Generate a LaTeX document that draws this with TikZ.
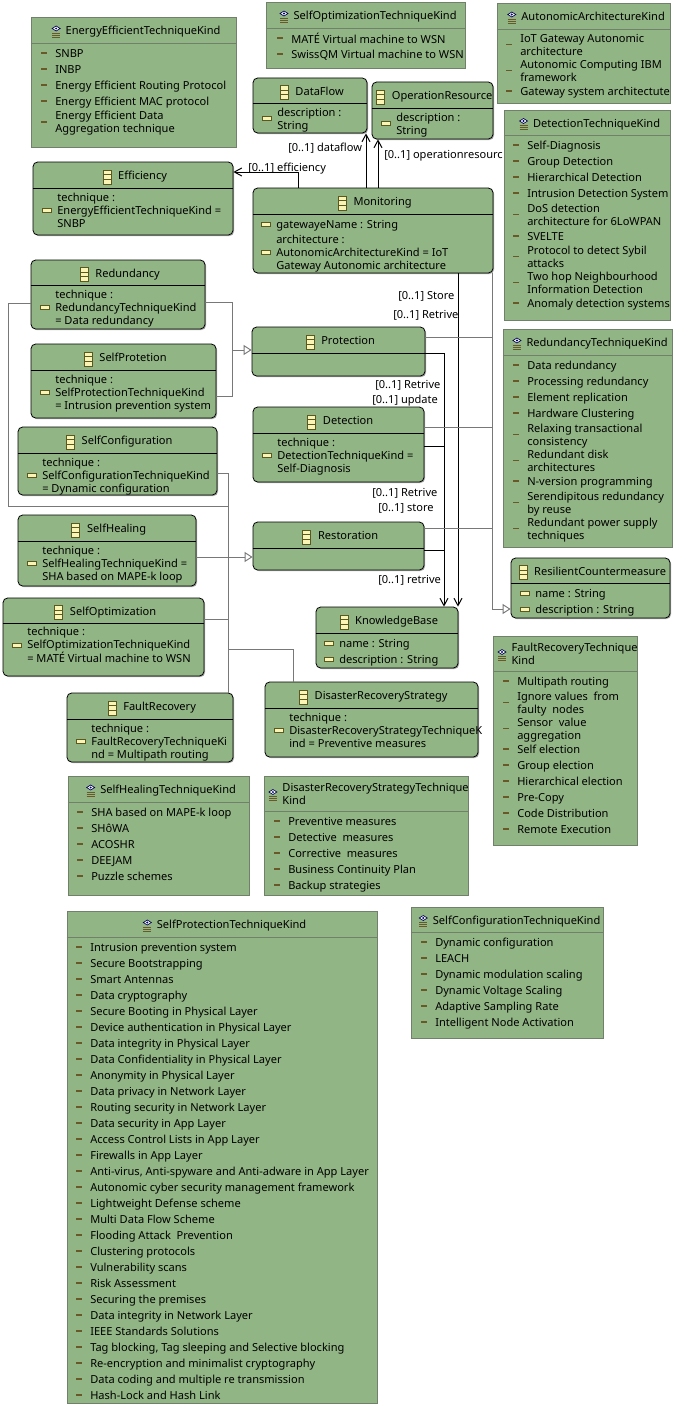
\documentclass[tikz,border=0pt]{standalone}
\usepackage{fontspec}
\setmainfont{Noto Sans}
\usetikzlibrary{arrows.meta,fit,shadows}

\definecolor{boxgreen}{RGB}{146,181,133}
\definecolor{kindframe}{RGB}{112,128,106}
\definecolor{edgegrey}{RGB}{120,120,120}
\definecolor{dashbrown}{RGB}{105,88,40}
\definecolor{iconfill}{RGB}{250,245,180}
\definecolor{iconline}{RGB}{90,88,30}

\tikzset{
	kindstyle/.style={draw=kindframe, fill=boxgreen, line width=0.6pt, inner sep=0pt, drop shadow={shadow xshift=0.8pt, shadow yshift=-0.8pt, fill=black, opacity=0.35}},
	classstyle/.style={draw=black, fill=boxgreen, line width=0.6pt, rounded corners=3.5pt, inner sep=0pt, drop shadow={shadow xshift=0.8pt, shadow yshift=-0.8pt, fill=black, opacity=0.35}},
	rowtext/.style={anchor=west, inner sep=0pt, align=left, yshift=-1.5pt, font=\fontsize{8.3}{9.75}\selectfont, execute at begin node=\strut, execute at end node=\strut},
	titletext/.style={rowtext, anchor=center},
	edgetext/.style={anchor=west, inner sep=0pt, yshift=-1.5pt, font=\fontsize{8.3}{9.75}\selectfont},
	kinddash/.style={draw=dashbrown, line width=1pt},
	refedge/.style={draw=black, line width=0.75pt, -{Straight Barb[length=5.5pt,width=6pt]}},
	greyedge/.style={draw=edgegrey, line width=0.7pt},
	genedge/.style={greyedge, -{Triangle[fill=white,length=6pt,width=7.5pt]}},
	classmark/.pic={
		\draw[iconline, fill=iconfill, line width=0.6pt] (-4,-7) rectangle (4,7);
		\draw[iconline, line width=0.6pt] (-4,-2.3) -- (4,-2.3) (-4,2.3) -- (4,2.3);
	},
	kindmark/.pic={
		\draw[black!70!blue, line width=0.5pt, fill=white] (-4,-3.5) -- (0,-6) -- (4,-3.5) -- (0,-1) -- cycle;
		\fill[blue!50!black] (0,-3.5) circle (1.1);
		\draw[dashbrown, line width=0.5pt] (-4,1) -- (4,1) (-4,3) -- (4,3) (-4,5) -- (4,5);
	}
}

% name, x1, y1, x2, y2, divider y, title
\newcommand{\kindbox}[7]{
	\node[kindstyle, fit={(#2,#3) (#4,#5)}] (#1) {};
	\draw[draw=kindframe, line width=0.6pt] (#1.west |- 0,#6) -- (#1.east |- 0,#6);
	\pgfmathsetmacro{\ty}{(#3+#6)/2}
	\node[titletext] (#1-title) at ([xshift=7.2pt]#1.north |- 0,\ty) {#7};
	\pic at ([xshift=-7pt]#1-title.west) {kindmark};
}
\newcommand{\classbox}[7]{
	\node[classstyle, fit={(#2,#3) (#4,#5)}] (#1) {};
	\draw[draw=black, line width=0.6pt] (#1.west |- 0,#6) -- (#1.east |- 0,#6);
	\pgfmathsetmacro{\ty}{(#3+#6)/2}
	\node[titletext] (#1-title) at ([xshift=7.2pt]#1.north |- 0,\ty) {#7};
	\pic at ([xshift=-8.25pt]#1-title.west) {classmark};
}
% name, text x, list of y/text
\newcommand{\kindrows}[3]{
	\foreach \ry/\rt [count=\ri] in {#3}{
		\node[rowtext] (#1-\ri) at (#2,\ry) {\rt};
		\draw[kinddash] ([xshift=-10.5pt,yshift=1.5pt]#1-\ri.west) -- ++(6,0);
	}
}
\newcommand{\classrows}[3]{
	\foreach \ry/\rt [count=\ri] in {#3}{
		\node[rowtext] (#1-\ri) at (#2,\ry) {\rt};
		\draw[iconline, fill=iconfill, line width=0.5pt] ([xshift=-11.2pt,yshift=3pt]#1-\ri.west) rectangle ++(9,4);
	}
}

\begin{document}
\begin{tikzpicture}[x=0.75pt,y=-0.75pt]
	\useasboundingbox (0,0) rectangle (680,1420);

	% enumerations
	\kindbox{energykind}{31}{17}{236}{147}{43}{EnergyEfficientTechniqueKind}
	\kindrows{energykind}{55}{53/SNBP, 69/INBP, 85/Energy Efficient Routing Protocol, 101/Energy Efficient MAC protocol, 122/{Energy Efficient Data\\Aggregation technique}}

	\kindbox{optimizationkind}{266}{2}{465}{68}{28}{SelfOptimizationTechniqueKind}
	\kindrows{optimizationkind}{291}{38/MATÉ Virtual machine to WSN, 54/SwissQM Virtual machine to WSN}

	\kindbox{architecturekind}{497}{3}{670}{103}{29}{AutonomicArchitectureKind}
	\kindrows{architecturekind}{520}{44.5/{IoT Gateway Autonomic\\architecture}, 70.5/{Autonomic Computing IBM\\framework}, 91/Gateway system architectute}

	\kindbox{detectionkind}{504}{110}{670}{320}{135}{DetectionTechniqueKind}
	\kindrows{detectionkind}{527}{145/Self-Diagnosis, 161/Group Detection, 177/Hierarchical Detection, 193/Intrusion Detection System, 214.5/{DoS detection\\architecture for 6LoWPAN}, 236/SVELTE, 256.5/{Protocol to detect Sybil\\attacks}, 282.5/{Two hop Neighbourhood\\Information Detection}, 303/Anomaly detection systems}

	\kindbox{redundancykind}{503}{329}{672}{547}{355}{RedundancyTechniqueKind}
	\kindrows{redundancykind}{527}{365/Data redundancy, 381/Processing redundancy, 397/Element replication, 413/Hardware Clustering, 434.5/{Relaxing transactional\\consistency}, 460.5/{Redundant disk\\architectures}, 481/N-version programming, 502.5/{Serendipitous redundancy\\by reuse}, 528.5/{Redundant power supply\\techniques}}

	\kindbox{recoverykind}{493}{636}{637}{845}{671}{FaultRecoveryTechnique\\Kind}
	\kindrows{recoverykind}{517}{681/Multipath routing, 702.5/{Ignore values~ from\\faulty~ nodes}, 728.5/{Sensor~ value\\aggregation}, 749/Self election, 765/Group election, 781/Hierarchical election, 797/Pre-Copy, 813/Code Distribution, 829/Remote Execution}

	\kindbox{healingkind}{68}{776}{249}{895}{802}{SelfHealingTechniqueKind}
	\kindrows{healingkind}{91}{812/SHA based on MAPE-k loop, 828/SHôWA, 844/ACOSHR, 860/DEEJAM, 876/Puzzle schemes}

	\kindbox{disasterkind}{264}{776}{468}{895}{811}{DisasterRecoveryStrategyTechnique\\Kind}
	\kindrows{disasterkind}{288}{821/Preventive measures, 837/Detective~ measures, 853/Corrective~ measures, 869/Business Continuity Plan, 885/Backup strategies}

	\kindbox{protectionkind}{67}{911}{377}{1403}{937}{SelfProtectionTechniqueKind}
	\kindrows{protectionkind}{90}{947/Intrusion prevention system, 963/Secure Bootstrapping, 979/Smart Antennas, 995/Data cryptography, 1011/Secure Booting in Physical Layer, 1027/Device authentication in Physical Layer, 1043/Data integrity in Physical Layer, 1059/Data Confidentiality in Physical Layer, 1075/Anonymity in Physical Layer, 1091/Data privacy in Network Layer, 1107/Routing security in Network Layer, 1123/Data security in App Layer, 1139/Access Control Lists in App Layer, 1155/Firewalls in App Layer, 1171/{Anti-virus, Anti-spyware and Anti-adware in App Layer}, 1187/Autonomic cyber security management framework, 1203/Lightweight Defense scheme, 1219/Multi Data Flow Scheme, 1235/Flooding Attack~ Prevention, 1251/Clustering protocols, 1267/Vulnerability scans, 1283/Risk Assessment, 1299/Securing the premises, 1315/Data integrity in Network Layer, 1331/IEEE Standards Solutions, 1347/{Tag blocking, Tag sleeping and Selective blocking}, 1363/Re-encryption and minimalist cryptography, 1379/Data coding and multiple re transmission, 1395/Hash-Lock and Hash Link}

	\kindbox{configurationkind}{411}{907}{603}{1038}{932}{SelfConfigurationTechniqueKind}
	\kindrows{configurationkind}{435}{942/Dynamic configuration, 958/LEACH, 974/Dynamic modulation scaling, 990/Dynamic Voltage Scaling, 1006/Adaptive Sampling Rate, 1022/Intelligent Node Activation}

	% classes
	\classbox{efficiency}{33}{162}{233}{235}{188}{Efficiency}
	\classrows{efficiency}{57}{210/{technique :\\EnergyEfficientTechniqueKind =\\SNBP}}

	\classbox{dataflow}{253}{78}{367}{133}{103}{DataFlow}
	\classrows{dataflow}{277}{118.5/{description :\\String}}

	\classbox{operationresource}{372}{82}{493}{139}{108}{OperationResource}
	\classrows{operationresource}{396}{123.5/{description :\\String}}

	\classbox{monitoring}{253}{188}{493}{273}{214}{Monitoring}
	\classrows{monitoring}{276}{224/gatewayeName : String, 252/{architecture :\\AutonomicArchitectureKind = IoT\\Gateway Autonomic architecture}}

	\classbox{redundancy}{31}{260}{205}{329}{285}{Redundancy}
	\classrows{redundancy}{55}{307/{technique :\\RedundancyTechniqueKind\\= Data redundancy}}

	\classbox{selfprotetion}{31}{344}{216}{418}{370}{SelfProtetion}
	\classrows{selfprotetion}{55}{392/{technique :\\SelfProtectionTechniqueKind\\= Intrusion prevention system}}

	\classbox{selfconfiguration}{18}{427}{217}{495}{453}{SelfConfiguration}
	\classrows{selfconfiguration}{42}{475/{technique :\\SelfConfigurationTechniqueKind\\= Dynamic configuration}}

	\classbox{selfhealing}{18}{515}{196}{586}{541}{SelfHealing}
	\classrows{selfhealing}{42}{563/{technique :\\SelfHealingTechniqueKind =\\SHA based on MAPE-k loop}}

	\classbox{selfoptimization}{3}{598}{204}{676}{623}{SelfOptimization}
	\classrows{selfoptimization}{27}{645/{technique :\\SelfOptimizationTechniqueKind\\= MATÉ Virtual machine to WSN}}

	\classbox{faultrecovery}{67}{693}{233}{762}{719}{FaultRecovery}
	\classrows{faultrecovery}{91}{741/{technique :\\FaultRecoveryTechniqueKi\\nd = Multipath routing}}

	\classbox{protection}{252}{327}{425}{376}{353}{Protection}

	\classbox{detection}{253}{407}{424}{482}{433}{Detection}
	\classrows{detection}{277}{455/{technique :\\DetectionTechniqueKind =\\Self-Diagnosis}}

	\classbox{restoration}{253}{522}{424}{570}{548}{Restoration}

	\classbox{knowledgebase}{316}{607}{458}{668}{633}{KnowledgeBase}
	\classrows{knowledgebase}{339}{643/name : String, 659/description : String}

	\classbox{disaster}{265}{682}{478}{757}{708}{DisasterRecoveryStrategy}
	\classrows{disaster}{289}{730/{technique :\\DisasterRecoveryStrategyTechniqueK\\ind = Preventive measures}}

	\classbox{countermeasure}{511}{558}{670}{618}{583}{ResilientCountermeasure}
	\classrows{countermeasure}{535}{593/name : String, 609/description : String}

	% references
	\draw[refedge] (monitoring.north -| 298,0) |- (efficiency.east |- 0,172);
	\draw[refedge] (monitoring.north -| 366,0) -- (dataflow.south -| 366,0);
	\draw[refedge] (monitoring.north -| 378,0) -- (operationresource.south -| 378,0);
	\draw[refedge] (monitoring.south -| 458,0) -- (knowledgebase.north -| 458,0);
	\draw[refedge] (protection.east |- 0,353) -| (knowledgebase.north -| 444,0);
	\draw[draw=black, line width=0.75pt] (detection.east |- 0,446) -- (444,446);
	\draw[draw=black, line width=0.75pt] (restoration.east |- 0,550) -- (444,550);

	\node[edgetext] (efficiencylabel) at (248,167) {[0..1] efficiency};
	\node[edgetext] (dataflowlabel) at (288,146) {[0..1] dataflow};
	\node[edgetext] (resourcelabel) at (384,154) {[0..1] operationresourc};
	\node[edgetext] (storelabel) at (398,294) {[0..1] Store};
	\node[edgetext] (retrivelabel) at (393,313) {[0..1] Retrive};
	\node[edgetext] (protretrive) at (375,383) {[0..1] Retrive};
	\node[edgetext] (protupdate) at (372,399) {[0..1] update};
	\node[edgetext] (detretrive) at (372,491) {[0..1] Retrive};
	\node[edgetext] (detstore) at (378,506) {[0..1] store};
	\node[edgetext] (restretrive) at (378,578) {[0..1] retrive};

	% generalizations
	\coordinate (protbus) at (232,350);
	\coordinate (wrapcorner) at (8,506);
	\coordinate (leftbus) at (228,506);
	\coordinate (rightbus) at (492,609);
	\draw[greyedge] (redundancy.east |- 0,302) -| (protbus);
	\draw[greyedge] (selfprotetion.east |- 0,396) -| (protbus);
	\draw[genedge] (protbus) -- (protection.west |- protbus);
	\draw[greyedge] (redundancy.west |- 0,303) -| (wrapcorner) -- (leftbus);
	\draw[greyedge] (selfconfiguration.east |- 0,473) -| (faultrecovery.north -| 228,0);
	\draw[genedge] (selfhealing.east |- 0,557) -- (restoration.west |- 0,557);
	\draw[greyedge] (selfoptimization.east |- 0,619) -- (228,619);
	\draw[greyedge] (228,649) -| (disaster.north -| 293,0);
	\draw[genedge] (monitoring.south -| rightbus) |- (countermeasure.west |- rightbus);
	\draw[greyedge] (protection.east |- 0,337) -- (492,337);
	\draw[greyedge] (detection.east |- 0,427) -- (492,427);
	\draw[greyedge] (restoration.east |- 0,528) -- (492,528);
\end{tikzpicture}
\end{document}
